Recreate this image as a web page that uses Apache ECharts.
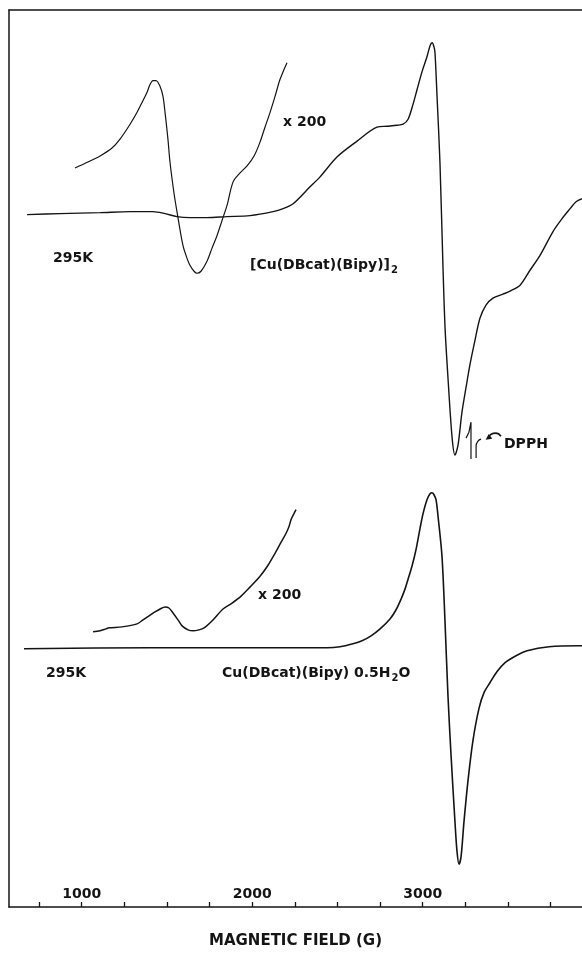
<!DOCTYPE html>
<html><head><meta charset="utf-8">
<script src="https://cdn.jsdelivr.net/npm/echarts@6/dist/echarts.min.js"></script>
<style>html,body{margin:0;padding:0;background:#fff}#c{width:582px;height:954px}</style>
</head><body><div id="c"></div><script>
// Magnetic field (G) axis ticks and labels
const fieldTicks = [750,1000,1250,1500,1750,2000,2250,2500,2750,3000,3250,3500,3750];
const fieldLabels = [1000,2000,3000];

// Vertical offsets (arbitrary units) of the two spectra baselines
const upperOffset = 69.9;
const lowerOffset = 26.1;

// [Cu(DBcat)(Bipy)]2 spectrum
const upperField = [680,873,1108,1284,1418,1489,1559,1635,1735,1852,1987,2122,2181,2240,2339,2398,2497,2615,2732,2791,2849,2885,2914,2943,2967,2996,3025,3043,3055,3066,3072,3084,3101,3119,3131,3148,3172,3189,3207,3230,3254,3277,3307,3336,3371,3412,3471,3512,3571,3629,3688,3764,3817,3864,3899,3934];
const upperSignal = [-0.2,-0.1,0,0.1,0.1,-0.1,-0.4,-0.5,-0.5,-0.4,-0.3,0.1,0.4,0.9,2.6,3.6,5.6,7.2,8.6,8.7,8.8,8.9,9.4,10.9,12.4,14.2,15.7,16.8,17.1,16.7,16.1,11.7,5.1,-5.6,-11.6,-16.6,-22.6,-24.4,-23.4,-20.1,-17.6,-15.3,-12.8,-10.6,-9.3,-8.6,-8.2,-7.9,-7.3,-5.8,-4.3,-1.9,-0.6,0.4,1.1,1.4];

// x200 trace of upper spectrum
const upperX200Field = [961,1037,1108,1178,1225,1284,1325,1360,1383,1401,1418,1436,1460,1477,1489,1506,1518,1542,1559,1594,1618,1635,1659,1676,1700,1735,1764,1794,1823,1852,1888,1929,1970,2011,2046,2075,2105,2134,2163,2204];
const upperX200Signal = [4.5,5.1,5.7,6.5,7.4,8.9,10.1,11.3,12.1,12.9,13.3,13.3,12.7,11.7,10.1,7.4,5.1,1.9,0.1,-3.3,-4.6,-5.3,-5.9,-6.1,-5.9,-4.9,-3.6,-2.3,-0.8,0.7,3.1,4.0,4.7,5.7,7.1,8.6,10.1,11.7,13.4,15.1];

// DPPH marker (relative to upper baseline)
const dpphField = [3254,3271,3283,3283];
const dpphSignal = [-22.7,-22.1,-21.1,-24.8];
const dpphTailField = [3313,3313,3324,3342];
const dpphTailSignal = [-24.7,-23.5,-23.0,-22.8];
const dpphArrowField = [3383,3401,3430,3459];
const dpphArrowSignal = [-22.7,-22.3,-22.2,-22.5];

// Cu(DBcat)(Bipy)·0.5H2O spectrum
const lowerField = [662,1401,2281,2439,2515,2591,2644,2697,2750,2808,2843,2873,2896,2914,2937,2961,2984,3002,3025,3043,3055,3066,3078,3090,3113,3131,3148,3166,3189,3201,3213,3225,3242,3266,3295,3330,3360,3395,3436,3483,3547,3612,3741,3917,3934];
const lowerSignal = [-0.1,0,0,0,0.1,0.4,0.7,1.2,1.9,2.9,3.8,4.9,5.9,6.9,8.2,9.9,12.0,13.5,14.9,15.5,15.6,15.4,14.9,13.2,9.2,2.5,-4.8,-10.8,-17.5,-20.5,-21.8,-21.0,-17.5,-13.3,-9.3,-6.1,-4.5,-3.5,-2.4,-1.5,-0.8,-0.3,0.1,0.2,0.2];

// x200 trace of lower spectrum
const lowerX200Field = [1067,1108,1143,1161,1237,1325,1360,1395,1430,1460,1489,1512,1536,1565,1589,1624,1653,1688,1718,1770,1829,1882,1935,1987,2046,2093,2134,2169,2198,2216,2228,2245,2257];
const lowerX200Signal = [1.6,1.7,1.9,2.0,2.1,2.4,2.8,3.2,3.6,3.9,4.1,4.0,3.5,2.8,2.2,1.8,1.7,1.8,2.0,2.8,3.9,4.5,5.2,6.1,7.2,8.3,9.5,10.6,11.5,12.2,12.9,13.5,13.9];

const toData = (f, s, off) => f.map((x, i) => [x, off + s[i]]);

const INK = '#141414';
const FONT = '"DejaVu Sans", "Liberation Sans", sans-serif';

function lineSeries(data, width, extra) {
  return Object.assign({
    type: 'line', data: data, showSymbol: false, symbol: 'none',
    smooth: 0.3, silent: true, animation: false,
    lineStyle: { color: INK, width: width }, z: 3
  }, extra || {});
}

const arrowData = toData(dpphArrowField, dpphArrowSignal, upperOffset);
arrowData[0] = { value: arrowData[0], symbol: 'triangle', symbolSize: [6, 6], symbolRotate: 125, itemStyle: { color: INK } };

function txt(x, y, text, extra) {
  return {
    type: 'text', x: x, y: y, silent: true, z: 10,
    style: Object.assign({
      text: text, fill: INK, fontSize: 14, fontWeight: 'bold', fontFamily: FONT,
      align: 'left', verticalAlign: 'middle'
    }, extra || {})
  };
}
const subRich = { sub: { fontSize: 10, fontWeight: 'bold', fontFamily: FONT, fill: INK, padding: [11, 0, 0, 1] } };

const chart = echarts.init(document.getElementById('c'), null, { renderer: 'canvas' });
chart.setOption({
  animation: false,
  backgroundColor: '#fff',
  grid: { left: 9, right: 0, top: 10, bottom: 41, containLabel: false },
  xAxis: [{
    type: 'value', position: 'bottom', min: 574, max: 3934,
    axisLine: { show: true, onZero: false, lineStyle: { color: INK, width: 1.5 } },
    axisTick: { show: true, inside: true, length: 5, customValues: fieldTicks, lineStyle: { color: INK, width: 1.3 } },
    axisLabel: { show: true, inside: true, margin: 6, customValues: fieldLabels, formatter: v => String(v), color: INK, fontSize: 14, fontWeight: 'bold', fontFamily: FONT },
    splitLine: { show: false },
    name: 'MAGNETIC FIELD (G)', nameLocation: 'middle', nameGap: 27,
    nameTextStyle: { color: INK, fontSize: 15, fontWeight: 'bold', fontFamily: FONT }
  }, {
    type: 'value', position: 'top', min: 574, max: 3934,
    axisLine: { show: true, onZero: false, lineStyle: { color: INK, width: 1.5 } },
    axisTick: { show: false }, axisLabel: { show: false }, splitLine: { show: false }
  }],
  yAxis: {
    type: 'value', min: 0, max: 90.3,
    axisLine: { show: true, onZero: false, lineStyle: { color: INK, width: 1.5 } },
    axisTick: { show: false }, axisLabel: { show: false }, splitLine: { show: false }
  },
  series: [
    lineSeries(toData(upperField, upperSignal, upperOffset), 1.4),
    lineSeries(toData(upperX200Field, upperX200Signal, upperOffset), 1.2),
    lineSeries(toData(dpphField, dpphSignal, upperOffset), 1.2, { smooth: false }),
    lineSeries(toData(dpphTailField, dpphTailSignal, upperOffset), 1.2, { smooth: 0.5 }),
    lineSeries(arrowData, 1.6, { smooth: 0.5, showSymbol: true }),
    lineSeries(toData(lowerField, lowerSignal, lowerOffset), 1.6),
    lineSeries(toData(lowerX200Field, lowerX200Signal, lowerOffset), 1.5)
  ],
  graphic: [
    txt(283, 122, 'x 200'),
    txt(53, 258, '295K'),
    txt(250, 265, '[Cu(DBcat)(Bipy)]{sub|2}', { rich: subRich }),
    txt(504, 444, 'DPPH'),
    txt(258, 595, 'x 200'),
    txt(46, 673, '295K'),
    txt(222, 673, 'Cu(DBcat)(Bipy) 0.5H{sub|2}O', { rich: subRich })
  ]
});
</script></body></html>
